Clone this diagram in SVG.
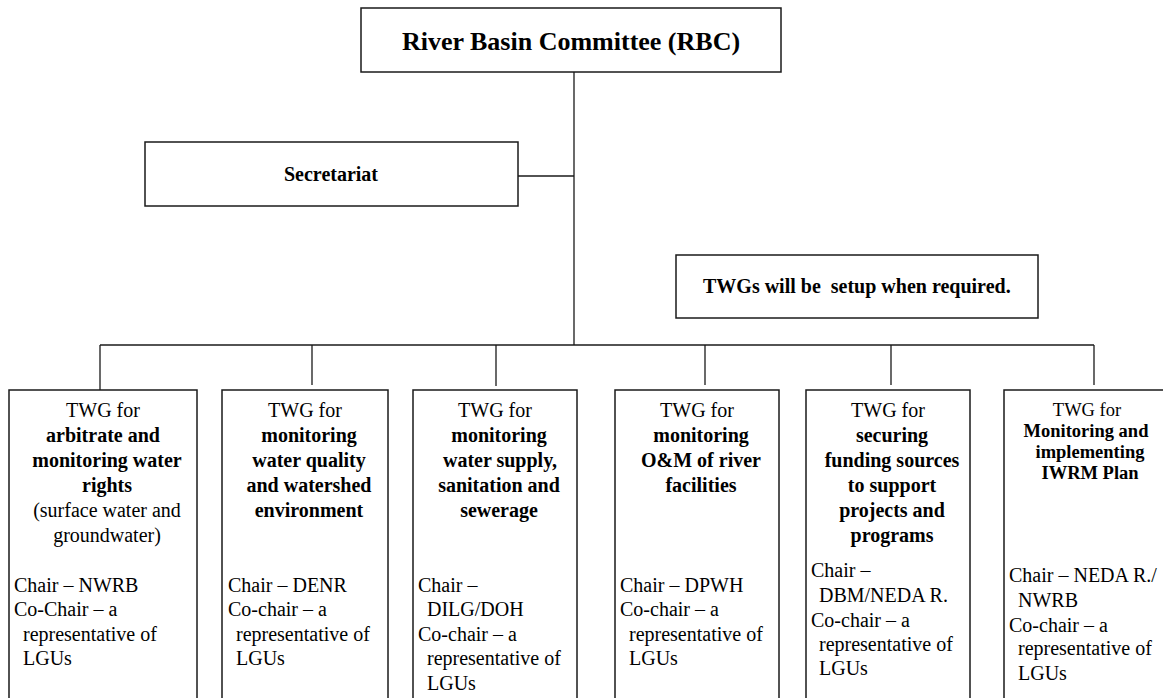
<svg xmlns="http://www.w3.org/2000/svg" width="1163" height="698" viewBox="0 0 1163 698" font-family="'Liberation Serif', 'Times New Roman', Tinos, 'DejaVu Serif', serif">
  <style>
    .box { fill: #ffffff; stroke: #1a1a1a; stroke-width: 1.5; }
    .wire { fill: none; stroke: #1a1a1a; stroke-width: 1.3; }
    .txt { font-family: 'Liberation Serif', 'Times New Roman', Tinos, 'DejaVu Serif', serif; fill: #000000; }
    .hd { font-weight: bold; }
    .t20 { font-size: 20px; }
    .t18 { font-size: 18.5px; }
    .mid { text-anchor: middle; }
  </style>
  <rect x="0" y="0" width="1163" height="698" fill="#ffffff"/>

  <!-- connectors -->
  <g id="connectors" class="wire">
    <line x1="574" y1="72" x2="574" y2="345"/>
    <line x1="518" y1="176" x2="574" y2="176"/>
    <line x1="100" y1="345" x2="1094" y2="345"/>
    <line x1="100" y1="345" x2="100" y2="390"/>
    <line x1="312" y1="345" x2="312" y2="385"/>
    <line x1="496" y1="345" x2="496" y2="386"/>
    <line x1="705" y1="345" x2="705" y2="385"/>
    <line x1="891" y1="345" x2="891" y2="385"/>
    <line x1="1094" y1="345" x2="1094" y2="385"/>
  </g>

  <g class="txt">
  <!-- committee -->
  <g id="rbc">
    <rect class="box" x="361" y="8" width="420" height="64"/>
    <text class="hd mid" x="571" y="50" font-size="26">River Basin Committee (RBC)</text>
  </g>

  <!-- secretariat -->
  <g id="secretariat">
    <rect class="box" x="145" y="142" width="373" height="64"/>
    <text class="hd mid t20" x="331" y="181">Secretariat</text>
  </g>

  <!-- note box -->
  <g id="twg-note">
    <rect class="box" x="676" y="255" width="362" height="63"/>
    <text class="hd t20" x="703" y="293" xml:space="preserve">TWGs will be  setup when required.</text>
  </g>

  <!-- TWG 1 -->
  <g id="twg-water-rights">
    <rect class="box" x="9" y="390" width="188" height="320"/>
    <text class="t20 mid" x="103" y="417">TWG for</text>
    <text class="t20 mid hd" x="103" y="442">arbitrate and</text>
    <text class="t20 mid hd" x="107" y="467">monitoring water</text>
    <text class="t20 mid hd" x="107" y="492">rights</text>
    <text class="t20 mid" x="107" y="517">(surface water and</text>
    <text class="t20 mid" x="107" y="542">groundwater)</text>
    <text class="t20" x="14" y="592">Chair – NWRB</text>
    <text class="t20" x="14" y="616">Co-Chair – a</text>
    <text class="t20" x="23" y="641">representative of</text>
    <text class="t20" x="23" y="665">LGUs</text>
  </g>

  <!-- TWG 2 -->
  <g id="twg-water-quality">
    <rect class="box" x="222" y="390" width="166" height="320"/>
    <text class="t20 mid" x="305" y="417">TWG for</text>
    <text class="t20 mid hd" x="309" y="442">monitoring</text>
    <text class="t20 mid hd" x="309" y="467">water quality</text>
    <text class="t20 mid hd" x="309" y="492">and watershed</text>
    <text class="t20 mid hd" x="309" y="517">environment</text>
    <text class="t20" x="228" y="592">Chair – DENR</text>
    <text class="t20" x="228" y="616">Co-chair – a</text>
    <text class="t20" x="236" y="641">representative of</text>
    <text class="t20" x="236" y="665">LGUs</text>
  </g>

  <!-- TWG 3 -->
  <g id="twg-water-supply">
    <rect class="box" x="413" y="390" width="164" height="320"/>
    <text class="t20 mid" x="495" y="417">TWG for</text>
    <text class="t20 mid hd" x="499" y="442">monitoring</text>
    <text class="t20 mid hd" x="500" y="467">water supply,</text>
    <text class="t20 mid hd" x="499" y="492">sanitation and</text>
    <text class="t20 mid hd" x="499" y="517">sewerage</text>
    <text class="t20" x="418" y="592">Chair –</text>
    <text class="t20" x="427" y="616">DILG/DOH</text>
    <text class="t20" x="418" y="641">Co-chair – a</text>
    <text class="t20" x="427" y="665">representative of</text>
    <text class="t20" x="427" y="690">LGUs</text>
  </g>

  <!-- TWG 4 -->
  <g id="twg-river-facilities">
    <rect class="box" x="615" y="390" width="164" height="320"/>
    <text class="t20 mid" x="697" y="417">TWG for</text>
    <text class="t20 mid hd" x="701" y="442">monitoring</text>
    <text class="t20 mid hd" x="701" y="467">O&amp;M of river</text>
    <text class="t20 mid hd" x="701" y="492">facilities</text>
    <text class="t20" x="620" y="592">Chair – DPWH</text>
    <text class="t20" x="620" y="616">Co-chair – a</text>
    <text class="t20" x="629" y="641">representative of</text>
    <text class="t20" x="629" y="665">LGUs</text>
  </g>

  <!-- TWG 5 -->
  <g id="twg-funding">
    <rect class="box" x="806" y="390" width="164" height="320"/>
    <text class="t20 mid" x="888" y="417">TWG for</text>
    <text class="t20 mid hd" x="892" y="442">securing</text>
    <text class="t20 mid hd" x="892" y="467">funding sources</text>
    <text class="t20 mid hd" x="892" y="492">to support</text>
    <text class="t20 mid hd" x="892" y="517">projects and</text>
    <text class="t20 mid hd" x="892" y="542">programs</text>
    <text class="t20" x="811" y="577">Chair –</text>
    <text class="t20" x="819" y="602">DBM/NEDA R.</text>
    <text class="t20" x="811" y="627">Co-chair – a</text>
    <text class="t20" x="819" y="651">representative of</text>
    <text class="t20" x="819" y="675">LGUs</text>
  </g>

  <!-- TWG 6 -->
  <g id="twg-iwrm">
    <rect class="box" x="1004" y="390" width="170" height="320"/>
    <text class="t18 mid" x="1087" y="416">TWG for</text>
    <text class="t18 mid hd" x="1086" y="437">Monitoring and</text>
    <text class="t18 mid hd" x="1090" y="458">implementing</text>
    <text class="t18 mid hd" x="1090" y="479">IWRM Plan</text>
    <text class="t20" x="1009" y="582">Chair – NEDA R./</text>
    <text class="t20" x="1018" y="607">NWRB</text>
    <text class="t20" x="1009" y="632">Co-chair – a</text>
    <text class="t20" x="1018" y="655">representative of</text>
    <text class="t20" x="1018" y="680">LGUs</text>
  </g>
  </g>
</svg>
